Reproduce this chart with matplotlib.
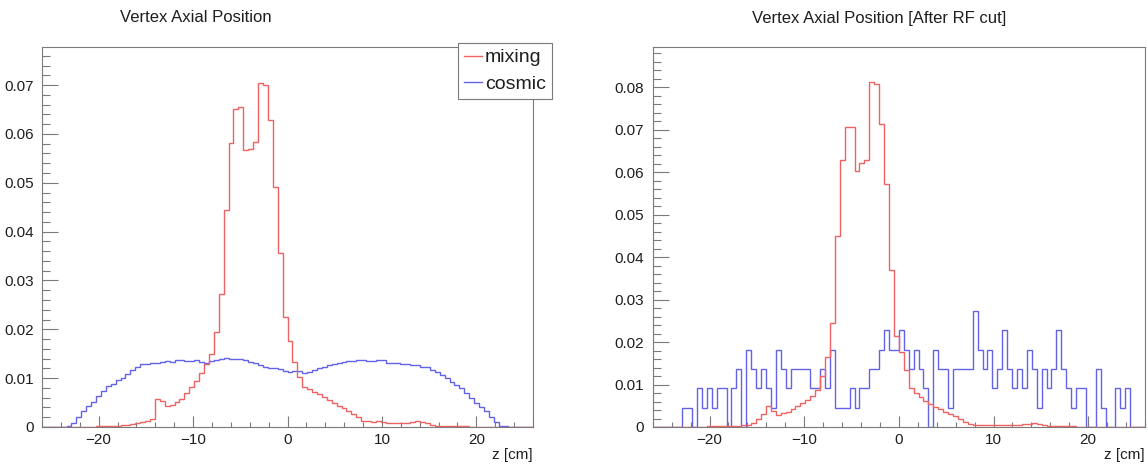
import numpy as np
import matplotlib
matplotlib.use("Agg")
import matplotlib.pyplot as plt
from matplotlib.ticker import MultipleLocator, FuncFormatter
from matplotlib.lines import Line2D

plt.rcParams['font.family'] = ['Liberation Sans', 'DejaVu Sans']

# ---------------- data ----------------
Z_MIN, Z_MAX, N_BINS = -26.0, 26.0, 100

titles = ["Vertex Axial Position", "Vertex Axial Position [After RF cut]"]
x_label = "z [cm]"
legend_labels = ["mixing", "cosmic"]

# left panel: all events (normalised histograms, 100 bins from -26 to 26 cm)
mixing_all = [
    0.0001, 0.0001, 0.0001, 0.0001, 0.0001, 0.0001, 0.0001, 0.0001, 0.0001, 0.0001,
    0.0001, 0.0002, 0.0002, 0.0002, 0.0003, 0.0003, 0.0004, 0.0005, 0.0007, 0.0008,
    0.0010, 0.0013, 0.0017, 0.0057, 0.0054, 0.0042, 0.0046, 0.0051, 0.0058, 0.0070,
    0.0082, 0.0094, 0.0110, 0.0130, 0.0150, 0.0195, 0.0273, 0.0444, 0.0582, 0.0652,
    0.0655, 0.0567, 0.0570, 0.0584, 0.0705, 0.0700, 0.0628, 0.0492, 0.0357, 0.0225,
    0.0176, 0.0133, 0.0102, 0.0082, 0.0077, 0.0072, 0.0067, 0.0061, 0.0056, 0.0049,
    0.0044, 0.0038, 0.0033, 0.0027, 0.0020, 0.0013, 0.0012, 0.0011, 0.0012, 0.0010,
    0.0009, 0.0008, 0.0008, 0.0009, 0.0008, 0.0010, 0.0013, 0.0010, 0.0008, 0.0005,
    0.0003, 0.0002, 0.0002, 0.0002, 0.0002, 0.0002, 0.0002, 0.0001, 0.0001, 0.0001,
    0.0001, 0.0001, 0.0001, 0.0001, 0.0001, 0.0001, 0.0001, 0.0001, 0.0001, 0.0001,
]
cosmic_all = [
    0.0, 0.0, 0.0, 0.0, 0.0, 0.0002, 0.0009, 0.0020, 0.0032, 0.0042,
    0.0052, 0.0063, 0.0074, 0.0083, 0.0089, 0.0096, 0.0101, 0.0109, 0.0116, 0.0123,
    0.0128, 0.0130, 0.0131, 0.0131, 0.0133, 0.0135, 0.0134, 0.0137, 0.0138, 0.0136,
    0.0135, 0.0137, 0.0134, 0.0132, 0.0136, 0.0138, 0.0140, 0.0141, 0.0140, 0.0139,
    0.0140, 0.0137, 0.0134, 0.0131, 0.0127, 0.0122, 0.0120, 0.0121, 0.0118, 0.0115,
    0.0113, 0.0114, 0.0114, 0.0111, 0.0113, 0.0116, 0.0120, 0.0123, 0.0126, 0.0128,
    0.0131, 0.0133, 0.0135, 0.0135, 0.0137, 0.0138, 0.0135, 0.0135, 0.0137, 0.0138,
    0.0131, 0.0131, 0.0131, 0.0130, 0.0128, 0.0126, 0.0126, 0.0123, 0.0123, 0.0117,
    0.0113, 0.0106, 0.0101, 0.0092, 0.0085, 0.0079, 0.0070, 0.0060, 0.0049, 0.0041,
    0.0032, 0.0020, 0.0010, 0.0003, 0.0002, 0.0001, 0.0, 0.0, 0.0, 0.0,
]

# right panel: after RF cut
mixing_rf = [
    0.0001, 0.0001, 0.0001, 0.0001, 0.0001, 0.0001, 0.0001, 0.0001, 0.0001, 0.0001,
    0.0001, 0.0002, 0.0002, 0.0002, 0.0002, 0.0002, 0.0003, 0.0003, 0.0004, 0.0005,
    0.0010, 0.0019, 0.0031, 0.0050, 0.0038, 0.0029, 0.0032, 0.0036, 0.0043, 0.0049,
    0.0056, 0.0064, 0.0072, 0.0087, 0.0120, 0.0166, 0.0245, 0.0450, 0.0628, 0.0707,
    0.0707, 0.0603, 0.0622, 0.0630, 0.0813, 0.0808, 0.0714, 0.0572, 0.0370, 0.0215,
    0.0177, 0.0134, 0.0093, 0.0079, 0.0070, 0.0062, 0.0054, 0.0048, 0.0042, 0.0036,
    0.0031, 0.0026, 0.0019, 0.0012, 0.0007, 0.0005, 0.0004, 0.0004, 0.0004, 0.0004,
    0.0004, 0.0004, 0.0004, 0.0004, 0.0004, 0.0007, 0.0008, 0.0010, 0.0007, 0.0005,
    0.0003, 0.0002, 0.0002, 0.0002, 0.0002, 0.0002, 0.0001, 0.0001, 0.0001, 0.0001,
    0.0001, 0.0001, 0.0001, 0.0001, 0.0001, 0.0001, 0.0001, 0.0001, 0.0001, 0.0001,
]
# cosmic after RF cut: entries per bin, each entry weighs COSMIC_RF_WEIGHT
cosmic_rf_counts = [
    0, 0, 0, 0, 0, 0, 1, 1, 0, 2,
    1, 2, 1, 2, 2, 0, 2, 3, 0, 4,
    3, 2, 3, 2, 1, 4, 3, 2, 3, 3,
    3, 3, 2, 2, 3, 2, 4, 1, 1, 1,
    2, 1, 2, 2, 3, 3, 4, 5, 4, 4,
    5, 4, 3, 4, 3, 2, 0, 4, 3, 3,
    1, 3, 3, 3, 3, 6, 4, 3, 4, 2,
    3, 5, 3, 2, 3, 2, 4, 3, 1, 3,
    2, 3, 5, 3, 2, 1, 2, 2, 0, 0,
    3, 1, 0, 0, 2, 1, 2, 0, 0, 0,
]
COSMIC_RF_WEIGHT = 0.00455

y_max = [0.0778, 0.0895]
y_major = [0.01, 0.01]

# ---------------- style ----------------
RED = '#f06262'
BLUE = '#6262ea'
FRAME = '#7a7a7a'
TEXT = '#1e1e1e'

W, H = 1148, 467
fig = plt.figure(figsize=(W / 100, H / 100), dpi=100)
ax1 = fig.add_axes([42 / W, 40 / H, 491 / W, 380 / H])
ax2 = fig.add_axes([652.7 / W, 40 / H, 492.3 / W, 380 / H])

edges = np.linspace(Z_MIN, Z_MAX, N_BINS + 1)
cosmic_rf = np.array(cosmic_rf_counts) * COSMIC_RF_WEIGHT

panels = [
    (ax1, mixing_all, cosmic_all),
    (ax2, mixing_rf, cosmic_rf),
]

yfmt = FuncFormatter(lambda v, p: '0' if abs(v) < 1e-12 else f'{v:.2f}')

for k, (ax, mix, cos) in enumerate(panels):
    ax.stairs(cos, edges, color=BLUE, lw=1.0, baseline=0, zorder=3)
    ax.stairs(mix, edges, color=RED, lw=1.0, baseline=0, zorder=3)
    ax.set_xlim(Z_MIN, Z_MAX)
    ax.set_ylim(0, y_max[k])
    ax.xaxis.set_major_locator(MultipleLocator(10))
    ax.xaxis.set_minor_locator(MultipleLocator(2))
    ax.yaxis.set_major_locator(MultipleLocator(y_major[k]))
    ax.yaxis.set_minor_locator(MultipleLocator(y_major[k] / 5))
    ax.yaxis.set_major_formatter(yfmt)
    for sp in ax.spines.values():
        sp.set_color(FRAME)
        sp.set_linewidth(0.8)
    ax.tick_params(axis='both', which='both', direction='in', top=False, right=False,
                   color=FRAME, width=0.8, labelcolor=TEXT, labelsize=11)
    ax.tick_params(axis='y', which='major', length=11.3, pad=6)
    ax.tick_params(axis='y', which='minor', length=5.8)
    ax.tick_params(axis='x', which='major', length=7.7, pad=4.5)
    ax.tick_params(axis='x', which='minor', length=3.6)
    ax.text(1.0, -(455 - 427) / 380, x_label, transform=ax.transAxes,
            ha='right', va='center', fontsize=11, color=TEXT)

fig.text(196 / W, 1 - 18 / H, titles[0], ha='center', va='center', fontsize=12, color=TEXT)
fig.text(879 / W, 1 - 18 / H, titles[1], ha='center', va='center', fontsize=12, color=TEXT)

handles = [Line2D([], [], color=RED, lw=1.0), Line2D([], [], color=BLUE, lw=1.0)]
leg = fig.legend(handles, legend_labels, loc='upper left',
                 bbox_to_anchor=(458 / W, 1 - 43 / H), bbox_transform=fig.transFigure,
                 frameon=True, fancybox=False, edgecolor=FRAME, framealpha=1,
                 fontsize=14, handlelength=0.93, handletextpad=0.15, borderpad=0.3,
                 labelspacing=0.45, borderaxespad=0)
leg.get_frame().set_linewidth(0.8)
for t in leg.get_texts():
    t.set_color(TEXT)

fig.savefig('out.png', dpi=100)
